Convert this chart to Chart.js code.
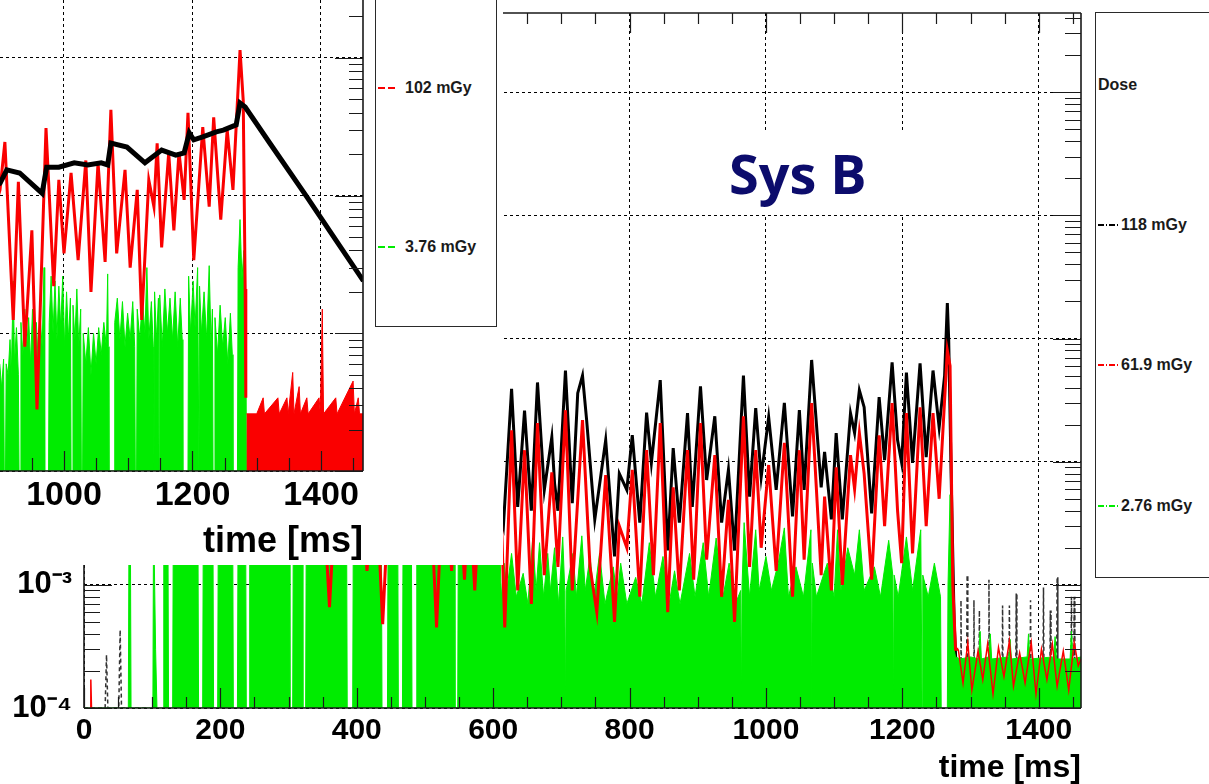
<!DOCTYPE html>
<html><head><meta charset="utf-8">
<script src="https://cdn.jsdelivr.net/npm/chart.js@4.4.1/dist/chart.umd.min.js"></script>
<style>
body{margin:0;background:#fff;}
#wrap{position:relative;width:1209px;height:784px;overflow:hidden;background:#fff;font-family:"Liberation Sans",Arial,sans-serif;}
#cB{position:absolute;left:0;top:0;}
#panelA{position:absolute;left:0;top:0;width:503px;height:565px;background:#fff;overflow:hidden;}
#cA{position:absolute;left:0;top:0;}
.leg{position:absolute;border:1.5px solid #2a2a2a;background:#fff;box-sizing:border-box;}
.item{position:absolute;font-weight:bold;font-size:16px;color:#1a1a1a;white-space:nowrap;line-height:18px;}
.samp{position:absolute;height:1.5px;width:20px;}
#sysb{position:absolute;left:709px;top:132px;width:177px;height:83px;padding-left:20px;background:#fff;color:#0c0c6c;font-family:"Open Sans",sans-serif;font-weight:bold;font-size:54px;line-height:83px;text-align:left;}
</style></head>
<body>
<div id="wrap">
  <canvas id="cB" width="1209" height="784"></canvas>
  <div id="sysb">Sys B</div>
  <div class="leg" id="legB" style="left:1095px;top:12px;width:130px;height:566px;"></div>
  <div id="panelA">
    <canvas id="cA" width="503" height="565"></canvas>
    <div class="leg" id="legA" style="left:375px;top:-4px;width:122px;height:331px;"></div>
  </div>
</div>
<script>
// ---------------- axis / legend text ----------------
const xTicksB = [0, 200, 400, 600, 800, 1000, 1200, 1400];
const xTicksA = [1000, 1200, 1400];
const yDecadesB = [1e-4, 1e-3, 1e-2, 1e-1, 1, 10];
const yDecadesA = [1e-4, 1e-3, 1e-2, 1e-1];
const legendTitleB = 'Dose';
const legendB = ['118 mGy', '61.9 mGy', '2.76 mGy'];
const legendA = ['102 mGy', '3.76 mGy'];
const xTitle = 'time [ms]';

// ---------------- Sys B (front plot) : [time ms, value]; null = no reading ----------------
const blackB = [
[0,1e-4],[31,1e-4],[33,0.00027],[35,1e-4],[51,1e-4],[53,0.00043],[55,1e-4],[96,1e-4],[100,null],
[104,0.004],[115,0.02],[130,0.006],[145,0.03],[160,0.008],[175,0.025],[190,0.005],[205,0.035],
[220,0.009],[235,0.028],[250,0.006],[265,0.03],[280,0.007],[295,0.022],[310,0.005],[325,0.03],
[340,0.008],[355,0.025],[365,0.004],[380,0.03],[395,0.007],[410,0.026],[425,0.006],[440,0.004],
[455,0.03],[470,0.008],[485,0.032],[500,0.005],[515,0.003],[530,0.028],[545,0.007],[560,0.03],
[575,0.006],[590,0.025],[605,0.005],
[615,0.0030],[627,0.039],[636,0.0043],[646,0.026],[656,0.0040],[665,0.044],[675,0.0059],[686,0.0158],
[690,0.0067],[695,0.0040],[706,0.055],[716,0.0046],[724,0.036],[731,0.050],[737,0.022],[749,0.0034],
[765,0.015],[778,0.0017],[785,0.0080],[796,0.0059],[804,0.0164],[815,0.0032],[825,0.025],[832,0.0098],
[845,0.046],[856,0.0019],[864,0.0129],[873,0.0032],[885,0.0248],[892,0.0043],[904,0.041],[913,0.0071],
[925,0.0234],[935,0.0032],[945,0.0086],[954,0.0019],[967,0.050],[976,0.0052],[985,0.0272],[993,0.0075],
[1004,0.023],[1015,0.0059],[1027,0.030],[1039,0.0036],[1049,0.0262],[1056,0.0059],[1067,0.067],[1081,0.0062],
[1086,0.012],[1096,0.0034],[1103,0.0171],[1112,0.0034],[1124,0.0248],[1130,0.0171],[1137,0.038],[1144,0.0277],
[1155,0.0038],[1166,0.0334],[1174,0.0103],[1185,0.064],[1193,0.015],[1199,0.0098],[1206,0.053],[1215,0.0098],
[1226,0.063],[1235,0.0109],[1245,0.055],[1254,0.019],[1262,0.05],[1266,0.194],[1268,0.097],[1272,0.0059],
[1276,0.0005],[1280,0.00015],[1283,1e-4],
[1285,1e-4],[1286,0.00075],[1287,1e-4],[1294,1e-4],[1295,0.0012],[1296,1e-4],[1304,1e-4],[1305,0.00075],
[1306,1e-4],[1312,1e-4],[1313,0.00062],[1314,1e-4],[1326,1e-4],[1327,0.0011],[1328,1e-4],[1346,1e-4],
[1347,0.00068],[1348,1e-4],[1356,1e-4],[1357,0.00068],[1358,1e-4],[1366,1e-4],[1367,0.00085],[1368,1e-4],
[1387,1e-4],[1388,0.00075],[1389,1e-4],[1406,1e-4],[1407,0.00095],[1408,1e-4],[1416,1e-4],[1417,0.00062],
[1418,1e-4],[1426,1e-4],[1427,0.00115],[1428,1e-4],[1447,1e-4],[1448,0.0008],[1449,1e-4],[1451,1e-4],
[1452,0.0008],[1453,1e-4],[1462,1e-4]
];
const redB = [
[9,1e-4],[10,0.00017],[11,1e-4],[12,null],[104,0.003],[112,0.012],[125,0.003],[140,0.015],
[155,0.004],[170,0.012],[185,0.003],[200,0.018],[215,0.004],[230,0.014],[245,0.003],[260,0.016],
[275,0.004],[290,0.012],[305,0.0025],[320,0.015],[335,0.003],[348,0.01],[360,0.00066],[372,0.012],
[390,0.003],[405,0.014],[415,0.0013],[427,0.01],[438,0.00048],[450,0.012],[465,0.003],[480,0.015],
[495,0.004],[506,0.01],[517,0.00045],[528,0.012],[539,0.0013],[548,0.008],[558,0.0011],[565,0.006],
[573,0.0009],[585,0.015],[600,0.003],[610,0.008],[617,0.00045],
[627,0.018],[636,0.0009],[646,0.0124],[656,0.0007],[665,0.0206],[675,0.0012],[686,0.0082],[695,0.0014],
[706,0.0262],[716,0.0009],[731,0.0218],[742,0.0014],[752,0.0006],[765,0.0078],[778,0.0005],[785,0.0030],
[796,0.0020],[804,0.0086],[815,0.0008],[825,0.0124],[835,0.0012],[845,0.0206],[856,0.0006],[864,0.0062],
[873,0.0009],[885,0.0124],[894,0.0011],[904,0.0206],[913,0.0016],[925,0.0113],[935,0.0008],[945,0.0049],
[954,0.0005],[967,0.0234],[976,0.0014],[985,0.0124],[993,0.0020],[1004,0.0094],[1015,0.0013],[1027,0.0142],
[1039,0.0008],[1049,0.0124],[1056,0.0016],[1067,0.0299],[1081,0.0012],[1086,0.0052],[1096,0.0009],[1103,0.0090],
[1112,0.0010],[1124,0.0113],[1130,0.0060],[1137,0.0171],[1144,0.0080],[1155,0.0011],[1166,0.0164],[1174,0.0030],
[1185,0.0299],[1193,0.0040],[1199,0.0015],[1206,0.0248],[1215,0.0018],[1226,0.0277],[1235,0.0030],[1245,0.0248],
[1254,0.0050],[1266,0.080],[1270,0.060],[1274,0.001],[1278,0.0003],
[1282,0.0003],[1289,0.00016],[1296,0.00034],[1302,0.00014],[1311,0.00029],[1318,0.00017],[1325,0.00033],
[1333,0.00013],[1341,0.00031],[1349,0.00018],[1357,0.00035],[1363,0.00015],[1372,0.00028],[1380,0.00016],
[1389,0.00034],[1396,0.00013],[1404,0.0003],[1412,0.00017],[1420,0.00033],[1427,0.00015],[1436,0.00029],
[1444,0.00014],[1452,0.00034],[1458,0.00022],[1462,0.00025]
];
const greenB = [
[0,1e-4],[65,1e-4],[66,0.003],[68,0.003],[69,1e-4],[101,1e-4],[102,0.004],[105,0.0003],[107,1e-4],
[116,1e-4],[117,0.004],[123,0.004],[124,1e-4],[130,1e-4],[131,0.004],[167,0.004],[168,1e-4],[174,1e-4],
[175,0.004],[189,0.004],[190,1e-4],[196,1e-4],[197,0.004],[218,0.004],[219,1e-4],[225,1e-4],[226,0.004],
[237,0.004],[238,1e-4],[242,1e-4],[243,0.004],[301,0.004],[302,1e-4],[306,1e-4],[307,0.004],[320,0.004],
[321,1e-4],[325,1e-4],[326,0.004],[385,0.004],[386,1e-4],[394,1e-4],[395,0.004],[436,0.004],[437,1e-4],
[445,1e-4],[446,0.004],[460,0.004],[461,1e-4],[467,1e-4],[468,0.004],[480,0.004],[481,1e-4],[487,1e-4],
[488,0.004],[543,0.004],[544,1e-4],[548,1e-4],[549,0.004],[608,0.004],
[612,0.0008],[616,0.0015],[620,0.0009],[627,0.0018],[634,0.0008],[644,0.00124],[651,0.0007],[658,0.0024],
[663,0.0009],[668,0.0022],[674,0.0008],[680,0.0018],[684,0.0009],[690,0.0020],[696,0.0007],[702,0.00245],
[705,0.0009],[706,1e-4],[707,0.0009],[717,0.0018],[722,0.0008],[730,0.0025],[735,0.0009],[742,0.0017],
[748,0.0008],[756,0.0018],[764,0.0007],[776,0.0014],[782,0.0008],[787,0.0015],[796,0.0007],[809,0.00115],
[818,0.0007],[829,0.0022],[838,0.0008],[849,0.0017],[858,0.0007],[866,0.0013],[874,0.0007],[888,0.0018],
[896,0.0008],[908,0.0022],[916,0.0008],[927,0.0024],[937,0.0008],[946,0.0015],[955,0.0007],[963,0.0009],
[964,1e-4],[965,0.001],[968,0.0032],[976,0.0008],[985,0.0028],[990,0.0009],[1000,0.0017],[1008,0.0009],
[1018,0.0015],[1027,0.0029],[1033,0.0008],[1044,0.0014],[1055,0.0008],[1066,0.0028],[1067,1e-4],[1068,0.0015],
[1074,0.0008],[1090,0.0015],[1100,0.0008],[1105,0.0028],[1110,0.0009],[1120,0.0020],[1130,0.0012],[1137,0.0028],
[1144,0.0009],[1159,0.0014],[1168,0.0008],[1180,0.0023],[1186,0.0012],[1187,1e-4],[1188,0.0012],[1194,0.0008],
[1206,0.00245],[1215,0.0009],[1227,0.0028],[1229,1e-4],[1230,0.0012],[1238,0.0008],[1247,0.0015],[1256,0.0008],
[1257,1e-4],[1266,1e-4],[1267,0.001],[1270,0.0054],[1273,0.0008],[1276,0.0003],[1278,0.00026],
[1285,0.00025],[1300,0.00026],[1312,0.00025],[1314,0.00042],[1316,0.00025],[1327,0.00026],[1329,0.0004],
[1331,0.00025],[1356,0.00026],[1358,0.00036],[1360,0.00025],[1383,0.00026],[1385,0.0004],[1387,0.00025],
[1422,0.00026],[1424,0.00038],[1426,0.00025],[1446,0.00025],[1448,0.00042],[1450,0.00025],[1462,0.00026]
];

// ---------------- back plot (left, zoomed 900-1465 ms) ----------------
const blackA = [
[895,0.0118],[900.4,0.0123],[911,0.0154],[931,0.0146],[966,0.0104],[973,0.0161],[992,0.0161],[1016,0.0173],
[1037,0.0167],[1058,0.0173],[1068,0.0167],[1073,0.0241],[1098,0.0225],[1126,0.0173],[1152,0.0214],[1174,0.0197],
[1187,0.0204],[1195,0.0285],[1202,0.0254],[1216,0.0267],[1237,0.029],[1248,0.0299],[1268,0.0326],[1274,0.047],
[1282,0.044],[1321,0.0238],[1378,0.0098],[1414,0.0055],[1466,0.0024]
];
const redA = [
[895,0.009],[900.4,0.011],[908,0.0245],[921,0.00125],[929,0.0126],[939,0.0008],[950,0.0056],[958,0.00028],
[972,0.031],[984,0.0022],[992,0.013],[1000,0.0038],[1011,0.0146],[1022,0.0034],[1034,0.018],[1042,0.002],
[1053,0.0173],[1064,0.0033],[1073,0.042],[1082,0.0038],[1095,0.0154],[1103,0.003],[1114,0.011],[1121,0.00125],
[1132,0.013],[1140,0.0083],[1145,0.024],[1152,0.0042],[1163,0.0204],[1171,0.0056],[1179,0.0207],[1187,0.0093],
[1193,0.040],[1202,0.0034],[1216,0.0315],[1226,0.0083],[1233,0.037],[1244,0.0067],[1254,0.030],[1263,0.011],
[1274,0.114],[1279,0.049],[1282,0.0021],[1283,0.00034]
];
const redTailA = [
[1284,0.00026],[1300,0.00026],[1310,0.00034],[1312,0.00026],[1333,0.00034],[1335,0.00026],[1347,0.00034],
[1349,0.00026],[1356,0.00052],[1358,0.00026],[1366,0.00041],[1368,0.00026],[1378,0.00034],[1380,0.00026],
[1397,0.00034],[1399,0.00026],[1402,0.0015],[1404,0.00026],[1423,0.00034],[1425,0.00026],[1450,0.00045],
[1452,0.00026],[1458,0.00034],[1460,0.00026],[1466,0.00026]
];
const greenA = [
[895,0.0005],[900,0.0006],[903,0.0004],[906,0.00065],[907,1e-4],[909,1e-4],[910,0.0006],[913,0.0005],
[916,0.0009],[918,0.0005],[921,0.0024],[923,0.0006],[926,0.0011],[929,0.0005],[930,1e-4],[932,1e-4],
[933,0.0012],[936,0.0007],[939,0.0015],[942,0.0008],[945,0.0013],[948,0.0006],[951,0.0015],[954,0.0008],
[957,0.0012],[960,0.0006],[963,0.0013],[966,0.0008],[969,0.003],[970,1e-4],[976,1e-4],[977,0.0012],
[980,0.0026],[983,0.001],[986,0.0024],[989,0.0009],[992,0.0022],[995,0.0011],[998,0.0026],[1001,0.0008],
[1004,0.002],[1007,0.0009],[1010,0.0018],[1011,1e-4],[1013,1e-4],[1014,0.0016],[1017,0.0009],[1020,0.0021],
[1023,0.0008],[1026,0.0015],[1027,1e-4],[1029,1e-4],[1030,0.001],[1034,0.0006],[1038,0.0011],[1042,0.0005],
[1046,0.001],[1050,0.0006],[1054,0.0011],[1058,0.0007],[1062,0.0012],[1066,0.0008],[1068,0.0027],[1069,0.0008],
[1070,1e-4],[1078,1e-4],[1079,0.0012],[1083,0.0018],[1087,0.0009],[1091,0.0017],[1095,0.0008],[1099,0.0014],
[1103,0.0009],[1107,0.0017],[1110,0.0008],[1111,1e-4],[1113,1e-4],[1114,0.0015],[1118,0.0009],[1122,0.0018],
[1126,0.001],[1129,0.003],[1132,0.0009],[1136,0.0017],[1139,0.0008],[1140,1e-4],[1141,0.002],[1144,0.0009],
[1147,0.0018],[1148,1e-4],[1149,0.0019],[1153,0.0008],[1157,0.0021],[1161,0.001],[1165,0.0018],[1169,0.0009],
[1173,0.002],[1177,0.0008],[1181,0.0018],[1184,0.0009],[1185,1e-4],[1193,1e-4],[1194,0.0026],[1197,0.001],
[1201,0.0024],[1204,0.0011],[1208,0.003],[1210,1e-4],[1211,0.0022],[1214,0.001],[1218,0.002],[1222,0.0009],
[1226,0.0031],[1229,0.0008],[1231,0.0015],[1232,1e-4],[1234,1e-4],[1235,0.0013],[1239,0.0007],[1243,0.0016],
[1247,0.0008],[1251,0.0013],[1255,0.0006],[1259,0.0014],[1262,0.0007],[1263,1e-4],[1270,1e-4],[1271,0.003],
[1274,0.0067],[1277,0.0025],[1280,0.004],[1283,0.0015],[1284,1e-4],[1466,1e-4]
];

// ---------------- colours ----------------
const BLACK = '#000000', RED = 'rgb(250,0,0)', GREEN = 'rgb(0,236,0)';
const FONT = '"Liberation Sans", Arial, sans-serif';

function pts(arr) { return arr.map(p => ({x: p[0], y: p[1]})); }
const SUP = {'-':'\u207B','0':'\u2070','1':'\u00B9','2':'\u00B2','3':'\u00B3','4':'\u2074','5':'\u2075','6':'\u2076','7':'\u2077','8':'\u2078','9':'\u2079'};
function decadeLabel(v) {
  const e = Math.round(Math.log10(v));
  if (e === 0) return '1';
  if (e === 1) return '10';
  return '10' + String(e).split('').map(c => SUP[c]).join('');
}

function frameTicks(o) {
  return {
    id: 'frameTicks',
    afterDatasetsDraw(chart) {
      const {ctx, chartArea: a} = chart;
      const xs = chart.scales.x, ys = chart.scales.y;
      ctx.save();
      ctx.strokeStyle = '#1a1a1a';
      ctx.lineWidth = 1.6;
      ctx.beginPath();
      if (o.top) { ctx.moveTo(a.left, a.top); ctx.lineTo(a.right, a.top); }
      if (o.bottom) { ctx.moveTo(a.left, a.bottom); ctx.lineTo(a.right, a.bottom); }
      if (o.left) { ctx.moveTo(a.left, a.top); ctx.lineTo(a.left, a.bottom); }
      if (o.right) { ctx.moveTo(a.right, a.top); ctx.lineTo(a.right, a.bottom); }
      ctx.stroke();
      ctx.lineWidth = 1.2;
      ctx.beginPath();
      for (let t = Math.ceil(xs.min / 50) * 50; t <= xs.max; t += 50) {
        const px = Math.round(xs.getPixelForValue(t)) + 0.5;
        const L = (t % 200 === 0) ? o.xMajor : o.xMinor;
        if (o.bottom) { ctx.moveTo(px, a.bottom); ctx.lineTo(px, a.bottom - L); }
        if (o.top) { ctx.moveTo(px, a.top); ctx.lineTo(px, a.top + L); }
      }
      for (let e = -5; e <= 2; e++) {
        for (let m = 1; m <= 9; m++) {
          const v = m * Math.pow(10, e);
          if (v < ys.min * 0.999 || v > ys.max) continue;
          const py = Math.round(ys.getPixelForValue(v)) + 0.5;
          const L = m === 1 ? o.yMajor : o.yMinor;
          if (o.left) { ctx.moveTo(a.left, py); ctx.lineTo(a.left + L, py); }
          if (o.right) { ctx.moveTo(a.right, py); ctx.lineTo(a.right - L, py); }
        }
      }
      ctx.stroke();
      ctx.restore();
    }
  };
}

const gridOpts = {color: '#000', lineWidth: 1, drawTicks: false};
const borderOpts = {display: false, dash: [3, 3]};
const sparse = x => x < 96 || x >= 1281;

// ---------------- Sys B chart (dataset 0 is drawn on top) ----------------
new Chart(document.getElementById('cB'), {
  type: 'line',
  data: {datasets: [
    {data: pts(redB), borderColor: RED, borderWidth: 3, pointRadius: 0, tension: 0, fill: false, clip: 0, spanGaps: false,
     segment: {borderWidth: c => sparse(c.p0.parsed.x) ? 1.5 : undefined}},
    {data: pts(greenB), borderColor: GREEN, backgroundColor: GREEN, borderWidth: 1, pointRadius: 0, tension: 0, fill: 'start', clip: 0},
    {data: pts(blackB), borderColor: BLACK, borderWidth: 3, pointRadius: 0, tension: 0, fill: false, clip: 0, spanGaps: false,
     segment: {borderDash: c => sparse(c.p0.parsed.x) ? [4, 3] : undefined,
               borderWidth: c => sparse(c.p0.parsed.x) ? 1.5 : undefined,
               borderColor: c => sparse(c.p0.parsed.x) ? '#333' : undefined}}
  ]},
  options: {
    responsive: false, animation: false, devicePixelRatio: 1, events: [],
    layout: {padding: {left: 0, right: 128, top: 13, bottom: 0}},
    plugins: {legend: {display: false}, tooltip: {enabled: false}},
    scales: {
      x: {type: 'linear', min: 0, max: 1462,
          afterBuildTicks: s => { s.ticks = xTicksB.map(v => ({value: v})); },
          afterFit: s => { s.height = 76; s.paddingLeft = 0; s.paddingRight = 0; },
          grid: gridOpts, border: borderOpts,
          ticks: {font: {family: FONT, size: 30, weight: 'bold'}, color: '#000', padding: 5, maxRotation: 0, autoSkip: false, callback: v => String(v)},
          title: {display: true, text: xTitle, align: 'end', color: '#000', font: {family: FONT, size: 32, weight: 'bold', lineHeight: 1}, padding: {top: 0, bottom: 0}}},
      y: {type: 'logarithmic', min: 1e-4, max: 44,
          afterBuildTicks: s => { s.ticks = yDecadesB.map(v => ({value: v})); },
          afterFit: s => { s.width = 84; s.paddingTop = 0; s.paddingBottom = 0; },
          grid: gridOpts, border: borderOpts,
          ticks: {font: {family: FONT, size: 31, weight: 'bold'}, color: '#000', padding: 12, autoSkip: false, callback: v => decadeLabel(v)}}
    }
  },
  plugins: [frameTicks({top: true, bottom: true, left: true, right: true, xMajor: 20, xMinor: 11, yMajor: 28, yMinor: 16})]
});

// ---------------- back plot chart ----------------
new Chart(document.getElementById('cA'), {
  type: 'line',
  data: {datasets: [
    {data: pts(blackA), borderColor: BLACK, borderWidth: 5, pointRadius: 0, tension: 0, fill: false, clip: 0},
    {data: pts(redA), borderColor: RED, borderWidth: 3, pointRadius: 0, tension: 0, fill: false, clip: 0},
    {data: pts(redTailA), borderColor: RED, backgroundColor: RED, borderWidth: 1, pointRadius: 0, tension: 0, fill: 'start', clip: 0},
    {data: pts(greenA), borderColor: GREEN, backgroundColor: GREEN, borderWidth: 1, pointRadius: 0, tension: 0, fill: 'start', clip: 0}
  ]},
  options: {
    responsive: false, animation: false, devicePixelRatio: 1, events: [],
    layout: {padding: {left: 0, right: 140, top: 0, bottom: 0}},
    plugins: {legend: {display: false}, tooltip: {enabled: false}},
    scales: {
      x: {type: 'linear', min: 900.4, max: 1465.4,
          afterBuildTicks: s => { s.ticks = xTicksA.map(v => ({value: v})); },
          afterFit: s => { s.height = 94; s.paddingLeft = 0; s.paddingRight = 0; },
          grid: gridOpts, border: borderOpts,
          ticks: {font: {family: FONT, size: 34, weight: 'bold'}, color: '#000', padding: 4, maxRotation: 0, autoSkip: false, callback: v => String(v)},
          title: {display: true, text: xTitle, align: 'end', color: '#000', font: {family: FONT, size: 36, weight: 'bold', lineHeight: 1.1}, padding: {top: 0, bottom: 3}}},
      y: {type: 'logarithmic', min: 1e-4, max: 0.2634,
          afterBuildTicks: s => { s.ticks = yDecadesA.map(v => ({value: v})); },
          afterFit: s => { s.width = 0; s.paddingTop = 0; s.paddingBottom = 0; },
          grid: gridOpts, border: borderOpts,
          ticks: {display: false}}
    }
  },
  plugins: [frameTicks({top: false, bottom: true, left: false, right: true, xMajor: 20, xMinor: 13, yMajor: 28, yMinor: 14})]
});

// ---------------- legends (HTML text) ----------------
function sampleBg(color, dashdot) {
  return dashdot
    ? `repeating-linear-gradient(90deg, ${color} 0 6px, transparent 6px 8px, ${color} 8px 9px, transparent 9px 11px)`
    : `repeating-linear-gradient(90deg, ${color} 0 7px, transparent 7px 10px)`;
}
function addItem(box, text, color, y, dashdot, textX) {
  if (color) {
    const s = document.createElement('div');
    s.className = 'samp';
    s.style.left = '2px'; s.style.top = (y - 1) + 'px';
    s.style.background = sampleBg(color, dashdot);
    box.appendChild(s);
  }
  const t = document.createElement('div');
  t.className = 'item';
  t.textContent = text;
  t.style.left = textX + 'px'; t.style.top = (y - 9) + 'px';
  box.appendChild(t);
}
const legB = document.getElementById('legB');
addItem(legB, legendTitleB, null, 72, false, 2);
addItem(legB, legendB[0], '#000', 212, true, 25);
addItem(legB, legendB[1], RED, 352, true, 25);
addItem(legB, legendB[2], GREEN, 493, true, 25);
const legA = document.getElementById('legA');
addItem(legA, legendA[0], RED, 91, false, 29);
addItem(legA, legendA[1], GREEN, 250, false, 29);
</script>
</body></html>
